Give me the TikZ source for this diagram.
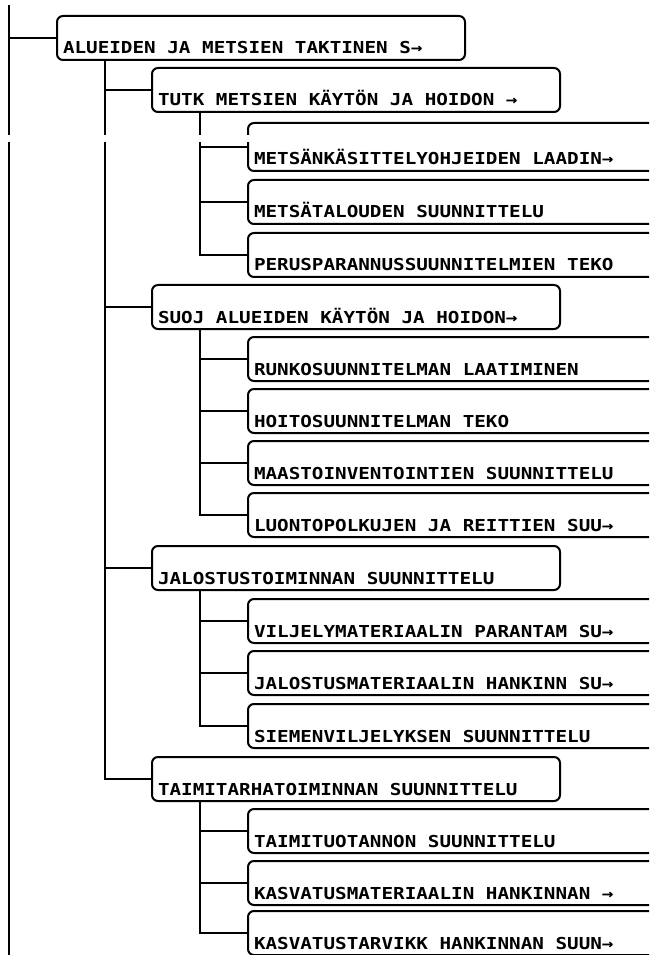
\documentclass[tikz,border=0pt]{standalone}
\usepackage{fontspec}
\newfontfamily\plotfont[FakeStretch=1.17]{DejaVu Sans Mono}
\tikzset{
  planbox/.style={draw, line width=1.5pt, rounded corners=4.5pt, anchor=west,
    outer sep=0pt, inner xsep=4.5pt, inner ysep=0pt, text width=297pt, align=left,
    text height=28.5pt, text depth=4.5pt,
    font=\plotfont\bfseries\fontsize{12.35}{14}\selectfont,
    execute at begin node={\spaceskip=8.7pt\relax}},
  link/.style={line width=1.5pt},
}
\begin{document}
\begin{tikzpicture}[x=0.75pt,y=-0.75pt]
\path[use as bounding box, clip] (0,0) rectangle (649,955);
\fill[white] (0,0) rectangle (649,955);
% level 1
\node[planbox] (n0) at (57,38) {ALUEIDEN JA METSIEN TAKTINEN S→};
% level 2
\node[planbox] (n1)  at (152,90)  {TUTK METSIEN KÄYTÖN JA HOIDON →};
\node[planbox] (n5)  at (152,307) {SUOJ ALUEIDEN KÄYTÖN JA HOIDON→};
\node[planbox] (n10) at (152,568) {JALOSTUSTOIMINNAN SUUNNITTELU};
\node[planbox] (n14) at (152,779) {TAIMITARHATOIMINNAN SUUNNITTELU};
% level 3
\node[planbox, anchor=south west, text height=31.5pt] (n2) at (248,171) {METSÄNKÄSITTELYOHJEIDEN LAADIN→};
\node[planbox] (n3)  at (248,202) {METSÄTALOUDEN SUUNNITTELU};
\node[planbox] (n4)  at (248,255) {PERUSPARANNUSSUUNNITELMIEN TEKO};
\node[planbox] (n6)  at (248,359) {RUNKOSUUNNITELMAN LAATIMINEN};
\node[planbox] (n7)  at (248,411) {HOITOSUUNNITELMAN TEKO};
\node[planbox] (n8)  at (248,463) {MAASTOINVENTOINTIEN SUUNNITTELU};
\node[planbox] (n9)  at (248,515) {LUONTOPOLKUJEN JA REITTIEN SUU→};
\node[planbox] (n11) at (248,621) {VILJELYMATERIAALIN PARANTAM SU→};
\node[planbox] (n12) at (248,673) {JALOSTUSMATERIAALIN HANKINN SU→};
\node[planbox] (n13) at (248,726) {SIEMENVILJELYKSEN SUUNNITTELU};
\node[planbox] (n15) at (248,831) {TAIMITUOTANNON SUUNNITTELU};
\node[planbox] (n16) at (248,883) {KASVATUSMATERIAALIN HANKINNAN →};
\node[planbox] (n17) at (248,933) {KASVATUSTARVIKK HANKINNAN SUUN→};
% root line
\coordinate (rtop) at (9,5);
\coordinate (rbot) at (9,962);
\draw[link] (rtop) -- (rbot);
\draw[link] (n0.west -| rtop) -- (n0.west);
% under level 1
\coordinate (v0) at ([xshift=36pt]n0.south west);
\draw[link] (n1.west -| v0) -- (n1.west);
\draw[link] (n5.west -| v0) -- (n5.west);
\draw[link] (n10.west -| v0) -- (n10.west);
\draw[link] (v0) |- (n14.west);
% under TUTK
\coordinate (v1) at ([xshift=36pt]n1.south west);
\draw[link] (n2.west -| v1) -- (n2.west);
\draw[link] (n3.west -| v1) -- (n3.west);
\draw[link] (v1) |- (n4.west);
% under SUOJ
\coordinate (v5) at ([xshift=36pt]n5.south west);
\draw[link] (n6.west -| v5) -- (n6.west);
\draw[link] (n7.west -| v5) -- (n7.west);
\draw[link] (n8.west -| v5) -- (n8.west);
\draw[link] (v5) |- (n9.west);
% under JALOSTUS
\coordinate (v10) at ([xshift=36pt]n10.south west);
\draw[link] (n11.west -| v10) -- (n11.west);
\draw[link] (n12.west -| v10) -- (n12.west);
\draw[link] (v10) |- (n13.west);
% under TAIMITARHA
\coordinate (v14) at ([xshift=36pt]n14.south west);
\draw[link] (n15.west -| v14) -- (n15.west);
\draw[link] (n16.west -| v14) -- (n16.west);
\draw[link] (v14) |- (n17.west);
% paper break
\fill[white] (0,135.5) rectangle (649,142.5);
\end{tikzpicture}
\end{document}
